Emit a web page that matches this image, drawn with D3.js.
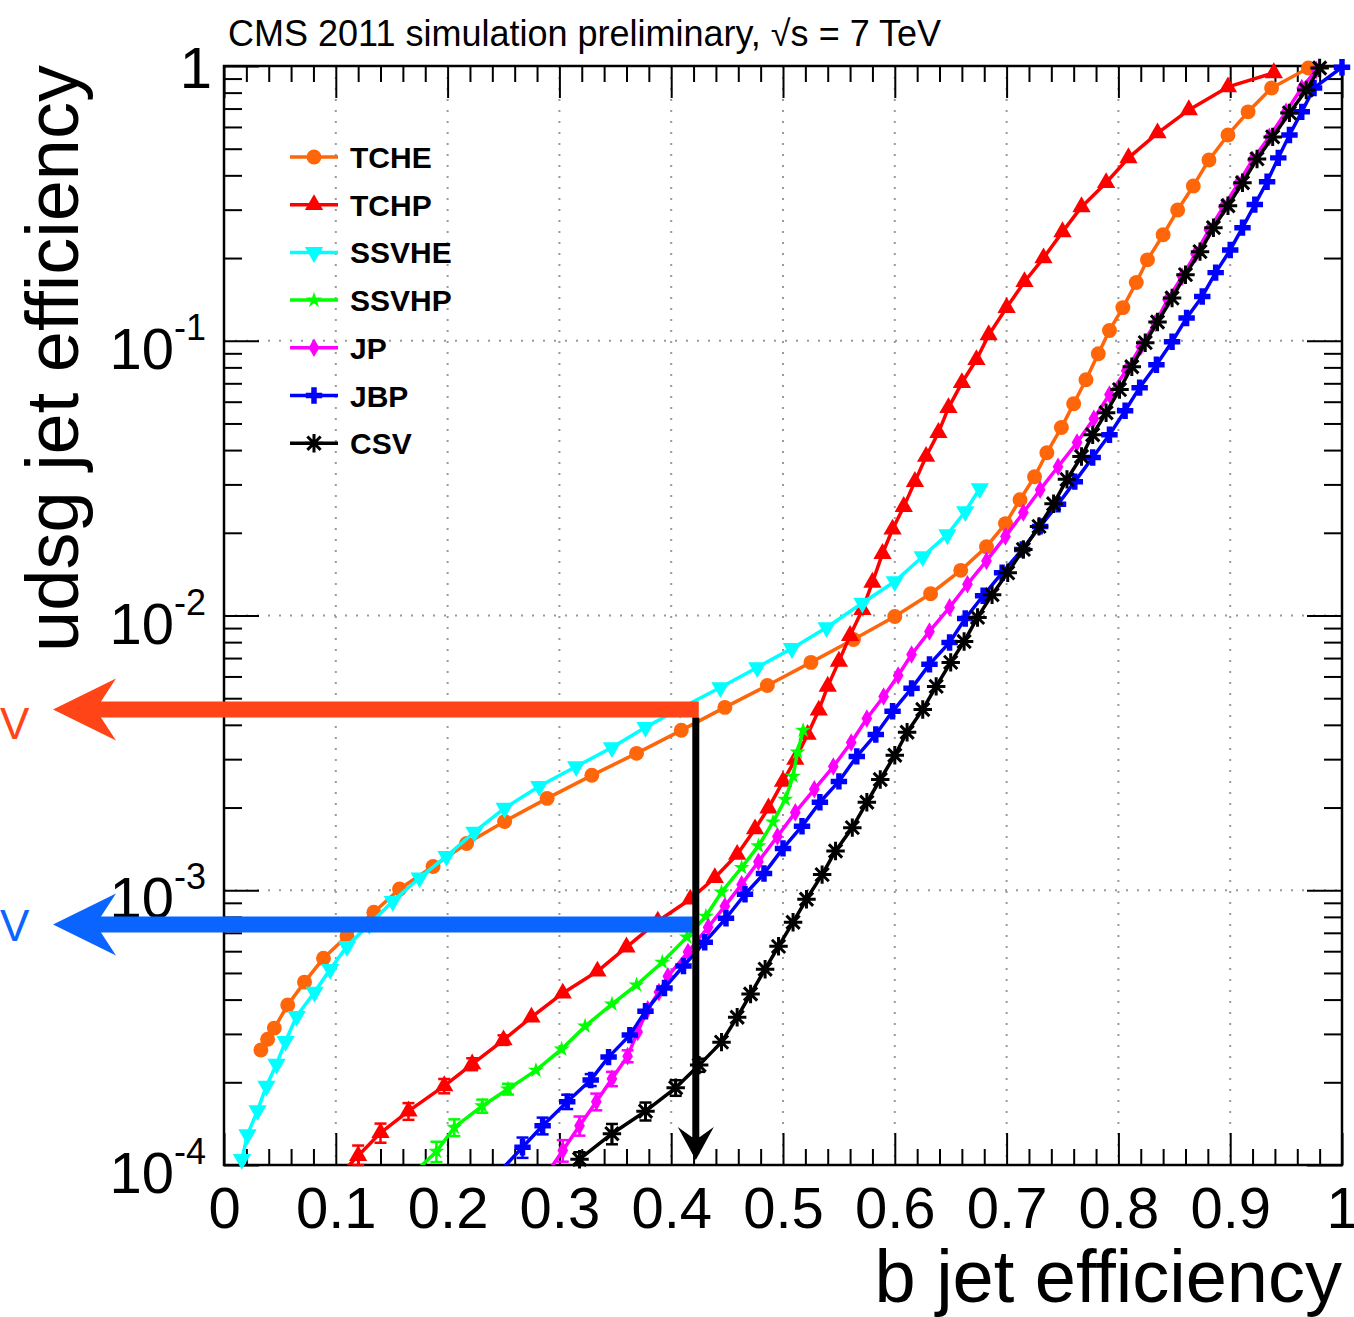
<!DOCTYPE html>
<html>
<head>
<meta charset="utf-8">
<script src="https://cdn.jsdelivr.net/npm/d3@7"></script>
<style>
body { margin: 0; background: #fff; }
svg { display: block; font-family: "Liberation Sans", Arial, Helvetica, sans-serif; }
</style>
</head>
<body>
<svg width="1354" height="1317"></svg>
<script>
// b jet efficiency (x) and udsg mistag rate (y)
var tcheEff = [0.033,0.039,0.045,0.057,0.072,0.089,0.110,0.134,0.157,0.187,0.217,0.251,0.289,0.329,0.369,0.409,0.448,0.486,0.525,0.563,0.600,0.632,0.659,0.682,0.699,0.712,0.725,0.736,0.749,0.760,0.771,0.782,0.792,0.804,0.816,0.826,0.840,0.853,0.867,0.881,0.898,0.916,0.937,0.970];
var tcheMis = [2.62e-4,2.87e-4,3.15e-4,3.82e-4,4.63e-4,5.66e-4,6.81e-4,8.32e-4,1.01e-3,1.22e-3,1.48e-3,1.78e-3,2.16e-3,2.62e-3,3.15e-3,3.82e-3,4.63e-3,5.56e-3,6.75e-3,8.18e-3,9.91e-3,1.20e-2,1.46e-2,1.78e-2,2.16e-2,2.64e-2,3.20e-2,3.91e-2,4.83e-2,5.90e-2,7.21e-2,8.97e-2,0.109,0.132,0.163,0.197,0.243,0.299,0.366,0.455,0.561,0.681,0.832,0.983];

var tchpEff = [0.100,0.120,0.140,0.165,0.197,0.222,0.250,0.275,0.303,0.334,0.360,0.388,0.417,0.439,0.459,0.475,0.487,0.500,0.511,0.522,0.532,0.540,0.550,0.560,0.571,0.580,0.589,0.598,0.608,0.618,0.628,0.639,0.648,0.660,0.673,0.684,0.700,0.716,0.733,0.750,0.767,0.789,0.809,0.835,0.863,0.898,0.939];
var tchpMis = [8.9e-5,1.08e-4,1.31e-4,1.57e-4,1.94e-4,2.33e-4,2.85e-4,3.45e-4,4.22e-4,5.07e-4,6.21e-4,7.71e-4,9.27e-4,1.11e-3,1.35e-3,1.67e-3,1.99e-3,2.49e-3,2.99e-3,3.69e-3,4.52e-3,5.52e-3,6.81e-3,8.45e-3,1.05e-2,1.32e-2,1.68e-2,2.06e-2,2.49e-2,3.07e-2,3.79e-2,4.63e-2,5.70e-2,7.03e-2,8.53e-2,0.105,0.132,0.164,0.200,0.249,0.307,0.376,0.463,0.570,0.692,0.839,0.944];
var tchpErr = [0,0.09,0.08,0.07,0.06,0.05,0.04];

var ssvheEff = [0.016,0.021,0.030,0.038,0.047,0.055,0.065,0.081,0.095,0.110,0.130,0.151,0.175,0.199,0.224,0.251,0.282,0.315,0.347,0.377,0.408,0.444,0.477,0.508,0.539,0.571,0.600,0.625,0.647,0.663,0.676];
var ssvheMis = [1.05e-4,1.29e-4,1.58e-4,1.94e-4,2.33e-4,2.82e-4,3.48e-4,4.26e-4,5.16e-4,6.25e-4,7.52e-4,9.12e-4,1.11e-3,1.33e-3,1.63e-3,1.99e-3,2.39e-3,2.82e-3,3.31e-3,3.92e-3,4.59e-3,5.47e-3,6.47e-3,7.59e-3,9.04e-3,1.11e-2,1.33e-2,1.64e-2,1.97e-2,2.39e-2,2.90e-2];

var ssvhpEff = [0.168,0.190,0.206,0.231,0.254,0.279,0.302,0.323,0.347,0.369,0.392,0.414,0.431,0.445,0.463,0.478,0.491,0.502,0.509,0.513,0.518];
var ssvhpMis = [9.2e-5,1.12e-4,1.37e-4,1.64e-4,1.89e-4,2.21e-4,2.64e-4,3.20e-4,3.85e-4,4.52e-4,5.47e-4,6.75e-4,8.04e-4,9.84e-4,1.21e-3,1.45e-3,1.77e-3,2.14e-3,2.60e-3,3.18e-3,3.82e-3];
var ssvhpErr = [0,0.085,0.07,0.055,0.045];

var jpEff = [0.292,0.303,0.318,0.333,0.347,0.361,0.370,0.379,0.389,0.397,0.415,0.433,0.448,0.463,0.478,0.495,0.511,0.528,0.545,0.561,0.575,0.590,0.603,0.615,0.631,0.649,0.665,0.682,0.699,0.715,0.730,0.746,0.763,0.778,0.792,0.807,0.820,0.833,0.844,0.857,0.869,0.881,0.894,0.907,0.920,0.935,0.950,0.964,0.977];
var jpMis = [9.7e-5,1.13e-4,1.39e-4,1.70e-4,2.06e-4,2.49e-4,3.05e-4,3.69e-4,4.26e-4,4.86e-4,5.96e-4,7.33e-4,8.75e-4,1.05e-3,1.27e-3,1.57e-3,1.92e-3,2.33e-3,2.82e-3,3.45e-3,4.22e-3,5.07e-3,6.05e-3,7.21e-3,8.75e-3,1.07e-2,1.30e-2,1.58e-2,1.94e-2,2.37e-2,2.87e-2,3.48e-2,4.26e-2,5.20e-2,6.37e-2,7.78e-2,9.51e-2,0.116,0.141,0.171,0.207,0.253,0.307,0.372,0.455,0.552,0.681,0.832,0.967];
var jpErr = [0,0.09,0.08,0.07,0.06,0.05];

var jbpEff = [0.247,0.267,0.285,0.307,0.328,0.344,0.363,0.377,0.394,0.411,0.430,0.449,0.466,0.483,0.500,0.517,0.533,0.550,0.566,0.583,0.598,0.615,0.631,0.649,0.663,0.679,0.696,0.714,0.730,0.746,0.761,0.777,0.792,0.806,0.819,0.834,0.848,0.861,0.875,0.887,0.900,0.911,0.922,0.933,0.943,0.953,0.964,0.975,1.0];
var jbpMis = [9.5e-5,1.16e-4,1.39e-4,1.70e-4,2.04e-4,2.47e-4,2.97e-4,3.63e-4,4.41e-4,5.30e-4,6.47e-4,7.91e-4,9.67e-4,1.15e-3,1.42e-3,1.71e-3,2.09e-3,2.49e-3,3.07e-3,3.69e-3,4.48e-3,5.43e-3,6.64e-3,7.98e-3,9.75e-3,1.18e-2,1.43e-2,1.74e-2,2.11e-2,2.54e-2,3.07e-2,3.76e-2,4.55e-2,5.56e-2,6.75e-2,8.18e-2,9.91e-2,0.121,0.145,0.177,0.214,0.258,0.313,0.379,0.463,0.561,0.681,0.832,0.99];
var jbpErr = [0,0.085,0.07,0.06,0.05];

var csvEff = [0.311,0.318,0.347,0.377,0.404,0.425,0.445,0.459,0.471,0.484,0.496,0.509,0.521,0.535,0.547,0.562,0.575,0.587,0.600,0.611,0.625,0.637,0.650,0.662,0.674,0.687,0.701,0.715,0.729,0.742,0.754,0.767,0.777,0.789,0.801,0.812,0.824,0.835,0.848,0.860,0.873,0.885,0.898,0.911,0.924,0.938,0.953,0.968,0.980];
var csvMis = [9.5e-5,1.05e-4,1.30e-4,1.57e-4,1.91e-4,2.31e-4,2.80e-4,3.45e-4,4.19e-4,5.16e-4,6.25e-4,7.65e-4,9.27e-4,1.14e-3,1.39e-3,1.69e-3,2.09e-3,2.53e-3,3.10e-3,3.76e-3,4.55e-3,5.52e-3,6.75e-3,8.04e-3,9.84e-3,1.19e-2,1.43e-2,1.74e-2,2.11e-2,2.55e-2,3.13e-2,3.79e-2,4.55e-2,5.47e-2,6.64e-2,8.04e-2,9.84e-2,0.117,0.143,0.174,0.211,0.258,0.310,0.376,0.459,0.552,0.675,0.818,0.983];
var csvErr = [0,0.06,0.085,0.075,0.065,0.055];

var names = ["TCHE","TCHP","SSVHE","SSVHP","JP","JBP","CSV"];
var xTicks = [0,0.1,0.2,0.3,0.4,0.5,0.6,0.7,0.8,0.9,1];
var xTickLabels = ["0","0.1","0.2","0.3","0.4","0.5","0.6","0.7","0.8","0.9","1"];
var yTicks = [1e-4,1e-3,1e-2,1e-1,1];
var yTickExp = ["-4","-3","-2","-1",""];

// working point annotation
var wpEff = 0.422;
var wpLoose = 4.55e-3;
var wpTight = 7.5e-4;

var X0 = 224, X1 = 1342, Y0 = 66, Y1 = 1165;
var font = "'Liberation Sans', Arial, Helvetica, sans-serif";

var x = d3.scaleLinear().domain([0, 1]).range([X0, X1]);
var y = d3.scaleLog().domain([1e-4, 1]).range([Y1, Y0]);

var asterisk = {
    draw: function(ctx, size) {
        var r = Math.sqrt(size) / 2, q = r * 0.72;
        ctx.moveTo(-r, 0); ctx.lineTo(r, 0);
        ctx.moveTo(0, -r); ctx.lineTo(0, r);
        ctx.moveTo(-q, -q); ctx.lineTo(q, q);
        ctx.moveTo(-q, q); ctx.lineTo(q, -q);
    }
};

var series = [
    {eff: tcheEff, mis: tcheMis, err: [], color: "#ff660a", sym: d3.symbolCircle, size: 175, rot: 0},
    {eff: tchpEff, mis: tchpMis, err: tchpErr, color: "#ff0000", sym: d3.symbolTriangle, size: 145, rot: 0},
    {eff: ssvheEff, mis: ssvheMis, err: [], color: "#00ffff", sym: d3.symbolTriangle, size: 145, rot: 180},
    {eff: ssvhpEff, mis: ssvhpMis, err: ssvhpErr, color: "#00ff00", sym: d3.symbolStar, size: 80, rot: 0},
    {eff: jpEff, mis: jpMis, err: jpErr, color: "#ff00ff", sym: d3.symbolDiamond, size: 100, rot: 0},
    {eff: jbpEff, mis: jbpMis, err: jbpErr, color: "#0000ff", sym: d3.symbolCross, size: 150, rot: 0},
    {eff: csvEff, mis: csvMis, err: csvErr, color: "#000000", sym: asterisk, size: 340, rot: 0, stroke: true}
];
series.forEach((s, i) => s.name = names[i]);

var svg = d3.select("svg");
svg.append("rect").attr("width", 1354).attr("height", 1317).attr("fill", "#fff");

svg.append("defs").append("clipPath").attr("id", "plotclip")
    .append("rect").attr("x", X0).attr("y", Y0).attr("width", X1 - X0).attr("height", Y1 - Y0);

// dotted grid
var grid = svg.append("g")
    .attr("stroke", "#9a9a9a")
    .attr("stroke-width", 2)
    .attr("stroke-dasharray", "2,9");
grid.selectAll("line.gx")
    .data(xTicks.slice(1, -1))
    .join("line")
    .attr("x1", d => x(d)).attr("x2", d => x(d))
    .attr("y1", Y0).attr("y2", Y1);
grid.selectAll("line.gy")
    .data(yTicks.slice(1, -1))
    .join("line")
    .attr("y1", d => y(d)).attr("y2", d => y(d))
    .attr("x1", X0).attr("x2", X1);

// ticks
var xMinor = d3.range(0, 50).map(i => i * 0.02).filter(v => Math.abs(v * 10 - Math.round(v * 10)) > 1e-6);
var yMinor = [];
yTicks.slice(0, -1).forEach(d => { for (var m = 2; m <= 9; m++) yMinor.push(d * m); });

function styleAxis(g) {
    g.select(".domain").remove();
    g.selectAll("line").attr("stroke", "#000").attr("stroke-width", 2);
}

svg.append("g").attr("transform", `translate(0,${Y1})`)
    .call(d3.axisBottom(x).tickValues(xMinor).tickSize(-16).tickFormat(""))
    .call(styleAxis);
svg.append("g").attr("transform", `translate(0,${Y0})`)
    .call(d3.axisTop(x).tickValues(xMinor).tickSize(-16).tickFormat(""))
    .call(styleAxis);
svg.append("g").attr("transform", `translate(0,${Y0})`)
    .call(d3.axisTop(x).tickValues(xTicks).tickSize(-32).tickFormat(""))
    .call(styleAxis);

var xAxis = svg.append("g").attr("transform", `translate(0,${Y1})`)
    .call(d3.axisBottom(x).tickValues(xTicks).tickSize(-32).tickPadding(22).tickFormat((d, i) => xTickLabels[i]))
    .call(styleAxis);
xAxis.attr("font-size", 58).attr("font-family", font);
xAxis.selectAll("text").attr("fill", "#000");

svg.append("g").attr("transform", `translate(${X0},0)`)
    .call(d3.axisLeft(y).tickValues(yMinor).tickSize(-18).tickFormat(""))
    .call(styleAxis);
svg.append("g").attr("transform", `translate(${X0},0)`)
    .call(d3.axisLeft(y).tickValues(yTicks).tickSize(-35).tickFormat(""))
    .call(styleAxis);
svg.append("g").attr("transform", `translate(${X1},0)`)
    .call(d3.axisRight(y).tickValues(yMinor).tickSize(-18).tickFormat(""))
    .call(styleAxis);
svg.append("g").attr("transform", `translate(${X1},0)`)
    .call(d3.axisRight(y).tickValues(yTicks).tickSize(-35).tickFormat(""))
    .call(styleAxis);

// y tick labels
yTicks.forEach((d, i) => {
    var t = svg.append("text")
        .attr("font-family", font)
        .attr("text-anchor", "end")
        .attr("fill", "#000");
    if (yTickExp[i] === "") {
        t.attr("x", 212).attr("y", y(d) + 22).attr("font-size", 58).text("1");
    } else {
        t.attr("x", 206).attr("y", y(d) + 28);
        t.append("tspan").attr("font-size", 58).text("10");
        t.append("tspan").attr("font-size", 36).attr("dy", -29).text(yTickExp[i]);
    }
});

// frame
svg.append("rect")
    .attr("x", X0).attr("y", Y0).attr("width", X1 - X0).attr("height", Y1 - Y0)
    .attr("fill", "none").attr("stroke", "#000").attr("stroke-width", 2.5);

// curves
var line = d3.line().x(d => x(d[0])).y(d => y(d[1]));
var plot = svg.append("g");

series.forEach(s => {
    var pts = s.eff.map((e, i) => [e, s.mis[i], s.err[i] || 0]);
    plot.append("path")
        .datum(pts)
        .attr("clip-path", "url(#plotclip)")
        .attr("fill", "none")
        .attr("stroke", s.color)
        .attr("stroke-width", 3.5)
        .attr("stroke-linejoin", "round")
        .attr("d", line);

    var inside = pts.filter(p => p[1] >= 1e-4 && p[1] <= 1.0001);
    var eb = plot.append("g").attr("stroke", s.color).attr("stroke-width", 2.5);
    inside.filter(p => p[2] > 0).forEach(p => {
        var ya = y(p[1] * (1 + p[2])), yb = y(Math.max(p[1] * (1 - p[2]), 1e-4));
        var cx = x(p[0]);
        eb.append("line").attr("x1", cx).attr("x2", cx).attr("y1", ya).attr("y2", yb);
        eb.append("line").attr("x1", cx - 6).attr("x2", cx + 6).attr("y1", ya).attr("y2", ya);
        eb.append("line").attr("x1", cx - 6).attr("x2", cx + 6).attr("y1", yb).attr("y2", yb);
    });

    plot.append("g").selectAll("path")
        .data(inside)
        .join("path")
        .attr("transform", p => `translate(${x(p[0])},${y(p[1])}) rotate(${s.rot})`)
        .attr("d", d3.symbol(s.sym, s.size))
        .attr("fill", s.stroke ? "none" : s.color)
        .attr("stroke", s.stroke ? s.color : "none")
        .attr("stroke-width", s.stroke ? 3 : 0);
});

// legend
var legend = svg.append("g");
series.forEach((s, i) => {
    var ly = 157 + i * 47.7;
    legend.append("line")
        .attr("x1", 290).attr("x2", 338).attr("y1", ly).attr("y2", ly)
        .attr("stroke", s.color).attr("stroke-width", 3.5);
    legend.append("path")
        .attr("transform", `translate(314,${ly}) rotate(${s.rot})`)
        .attr("d", d3.symbol(s.sym, s.size))
        .attr("fill", s.stroke ? "none" : s.color)
        .attr("stroke", s.stroke ? s.color : "none")
        .attr("stroke-width", s.stroke ? 3 : 0);
    legend.append("text")
        .attr("x", 350).attr("y", ly + 11)
        .attr("font-family", font)
        .attr("font-size", 30)
        .attr("font-weight", "bold")
        .attr("fill", "#000")
        .text(s.name);
});

// working point arrows
function hArrow(yv, xEnd, color) {
    var c = y(yv);
    svg.append("line")
        .attr("x1", 100).attr("x2", xEnd).attr("y1", c).attr("y2", c)
        .attr("stroke", color).attr("stroke-width", 16);
    svg.append("path")
        .attr("d", `M53,${c}L116,${c - 31}L101,${c - 8}L101,${c + 8}L116,${c + 31}Z`)
        .attr("fill", color);
}
hArrow(wpLoose, x(wpEff) + 3, "#ff4517");
hArrow(wpTight, x(wpEff) - 3, "#0a64ff");

var ax = x(wpEff);
svg.append("line")
    .attr("x1", ax).attr("x2", ax)
    .attr("y1", y(wpLoose) + 8).attr("y2", y(1.1e-4))
    .attr("stroke", "#000").attr("stroke-width", 7);
var tip = y(1e-4) - 5;
svg.append("path")
    .attr("d", `M${ax},${tip}L${ax - 18},${tip - 33}L${ax - 4},${tip - 23}L${ax + 4},${tip - 23}L${ax + 18},${tip - 33}Z`)
    .attr("fill", "#000");

svg.append("text").attr("x", 0).attr("y", y(wpLoose) + 30)
    .attr("font-family", font).attr("font-size", 44)
    .attr("fill", "#ff4517").text("V");
svg.append("text").attr("x", 0).attr("y", y(wpTight) + 16)
    .attr("font-family", font).attr("font-size", 44)
    .attr("fill", "#0a64ff").text("V");

// titles
svg.append("text")
    .attr("x", 228).attr("y", 46)
    .attr("font-family", font).attr("font-size", 36)
    .attr("fill", "#000")
    .text("CMS 2011 simulation preliminary, \u221As = 7 TeV");

svg.append("text")
    .attr("x", X1).attr("y", 1302)
    .attr("text-anchor", "end")
    .attr("font-family", font).attr("font-size", 74)
    .attr("fill", "#000")
    .text("b jet efficiency");

svg.append("text")
    .attr("transform", "translate(78,65) rotate(-90)")
    .attr("text-anchor", "end")
    .attr("font-family", font).attr("font-size", 74)
    .attr("fill", "#000")
    .text("udsg jet efficiency");
</script>
</body>
</html>
